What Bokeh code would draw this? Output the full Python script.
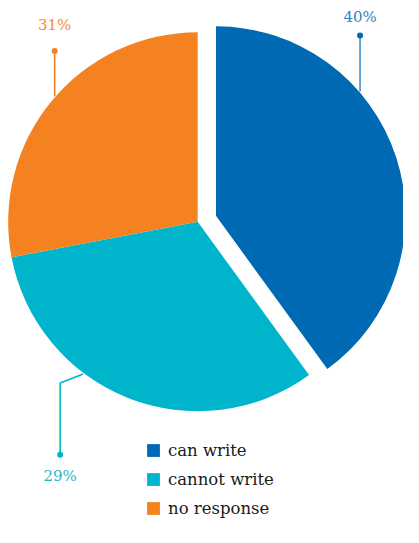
import math
from bokeh.plotting import figure
from bokeh.models import Range1d, Legend, LegendItem
from bokeh.core.properties import value
from bokeh.embed import file_html
from bokeh.resources import INLINE

# ---- data ----
categories = ["can write", "cannot write", "no response"]
shares = [40, 32, 28]            # slice sizes as drawn in the picture (%)
label_texts = ["40%", "29%", "31%"]
colors = ["#0069b4", "#00b5cb", "#f58220"]
text_colors = ["#3a7ec2", "#1fb7cf", "#f58a34"]
line_colors = ["#3f8ed2", "#00b5cb", "#f58220"]

# ---- layout (reference pixel space, y measured upward) ----
W, H = 403, 527
RW, RH = 419, 543
cx, cy, R = 205, 315, 197
explode = [20, 0, 0]
anchor_deg = [40.5, 232.8, 139.0]
dot_y = [507, 75, 491]
text_y = [526, 53, 518]
elbow = [None, (62, 149), None]
SERIF = "DejaVu Serif"

p = figure(width=W, height=H, output_backend="svg", toolbar_location=None,
           x_range=Range1d(0, RW), y_range=Range1d(0, RH), min_border=0)
p.axis.visible = False
p.grid.visible = False
p.outline_line_color = None
p.background_fill_color = "#ffffff"
p.border_fill_color = "#ffffff"

total = sum(shares)
start = 90.0
renderers = []
for i, (cat, s) in enumerate(zip(categories, shares)):
    sweep = s / total * 360.0
    end = start - sweep
    mid = math.radians((start + end) / 2)
    ox = cx + explode[i] * math.cos(mid)
    oy = cy + explode[i] * math.sin(mid)
    r = p.wedge(x=[ox], y=[oy], radius=R,
                start_angle=[math.radians(start)], end_angle=[math.radians(end)],
                direction="clock", fill_color=colors[i], line_color=None)
    renderers.append(r)

    a = math.radians(anchor_deg[i])
    ax_ = ox + R * math.cos(a)
    ay_ = oy + R * math.sin(a)
    if elbow[i] is None:
        xs, ys, dx = [ax_, ax_], [ay_, dot_y[i]], ax_
    else:
        ex, ey = elbow[i]
        xs, ys, dx = [ax_, ex, ex], [ay_, ey, dot_y[i]], ex
    p.line(xs, ys, line_color=line_colors[i], line_width=1.6)
    p.scatter([dx], [dot_y[i]], size=6, fill_color=colors[i], line_color=None)
    p.text(x=[dx], y=[text_y[i]], text=[label_texts[i]],
           text_font=value(SERIF), text_font_size="15px",
           text_color=text_colors[i], text_align="center",
           text_baseline="middle")
    start = end

legend = Legend(items=[LegendItem(label=c, renderers=[r])
                       for c, r in zip(categories, renderers)],
                location=(145, 9), orientation="vertical",
                glyph_width=16, glyph_height=16, label_height=20,
                label_standoff=7, spacing=9, padding=0, margin=0,
                border_line_color=None, background_fill_alpha=0,
                label_text_font=SERIF,
                label_text_font_size="16.5px", label_text_color="#1a1a1a")
p.add_layout(legend, "center")

open("out.html", "w").write(file_html(p, INLINE))
